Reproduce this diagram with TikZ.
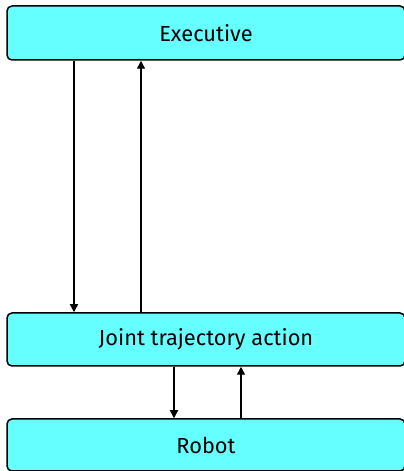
\documentclass[tikz,border=0pt]{standalone}
\usepackage{fontspec}
\setmainfont{Fira Sans}
\usetikzlibrary{arrows.meta}
\begin{document}
\begin{tikzpicture}[x=1pt,y=1pt,
  blk/.style={draw=black, line width=1.5pt, fill={rgb,255:red,102;green,255;blue,255}, rounded corners=5pt, minimum width=398pt, inner sep=0pt, font=\fontsize{21.8}{24}\selectfont},
  arr/.style={line width=1.4pt, -{Triangle[length=8pt,width=8pt]}}]
\useasboundingbox (0,0) rectangle (404,471);
\clip (0,0) rectangle (404,471);
\node[blk, minimum height=54pt] (exec) at (206,438) {Executive};
\node[blk, minimum height=53pt] (joint) at (206,131.5) {Joint trajectory action};
\node[blk, minimum height=52pt] (robot) at (206,26) {Robot};
\draw[arr] ([xshift=-132pt]exec.south) -- ([xshift=-132pt]joint.north);
\draw[arr] ([xshift=-65pt]joint.north) -- ([xshift=-65pt]exec.south);
\draw[arr] ([xshift=-32pt]joint.south) -- ([xshift=-32pt]robot.north);
\draw[arr] ([xshift=35pt]robot.north) -- ([xshift=35pt]joint.south);
\end{tikzpicture}
\end{document}
